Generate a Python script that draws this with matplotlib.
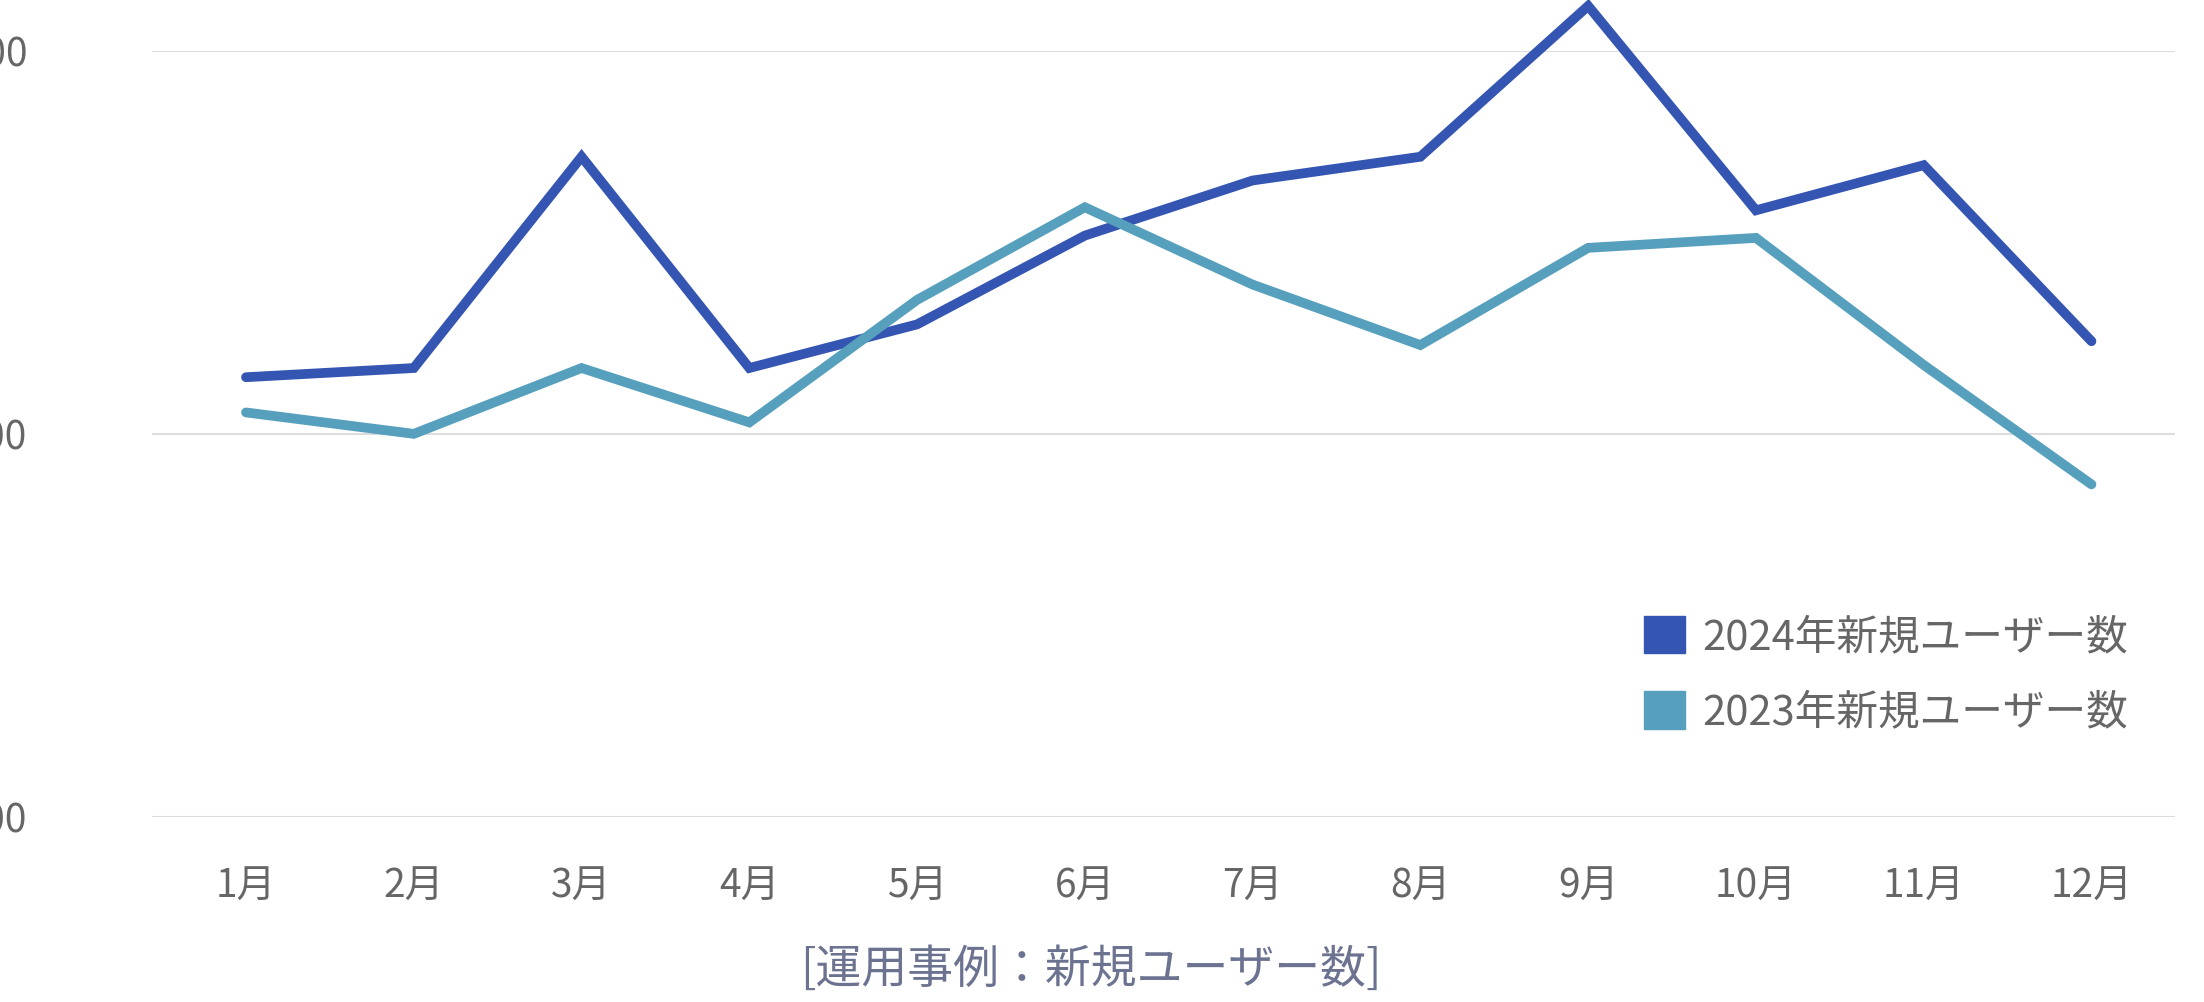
import matplotlib
matplotlib.use("Agg")
import matplotlib.pyplot as plt
from matplotlib.patches import Patch

plt.rcParams['font.family'] = ['Noto Sans CJK JP', 'DejaVu Sans']

months = ["1月", "2月", "3月", "4月", "5月", "6月", "7月", "8月", "9月", "10月", "11月", "12月"]
users_2024 = [1574, 1586, 1862, 1586, 1643, 1759, 1831, 1862, 2059, 1792, 1851, 1621]
users_2023 = [1528, 1500, 1586, 1515, 1675, 1796, 1695, 1616, 1743, 1756, 1590, 1434]
label_2024 = "2024年新規ユーザー数"
label_2023 = "2023年新規ユーザー数"
c24 = "#3455b1"
c23 = "#56a0bd"

fig = plt.figure(figsize=(22.04, 10.02), dpi=100)
ax = fig.add_axes([0.069, 0.185, 0.918, 0.764])
x = range(len(months))
ax.plot(x, users_2024, color=c24, lw=7, clip_on=False, solid_capstyle='round', solid_joinstyle='miter', zorder=3)
ax.plot(x, users_2023, color=c23, lw=7, clip_on=False, solid_capstyle='round', solid_joinstyle='miter', zorder=3)
ax.set_ylim(1000, 2000)
ax.set_xlim(-0.56, 11.5)
ax.set_yticks([1000, 1500, 2000])
ax.set_xticks(list(x))
ax.set_xticklabels(months)
ax.grid(axis='y', color='#dddddd', lw=1.5)
for s in ax.spines.values():
    s.set_visible(False)
ax.tick_params(length=0, labelsize=28, colors='#666666')
ax.tick_params(axis='x', pad=36)
for t in ax.get_yticklabels():
    t.set_horizontalalignment('left')
ax.tick_params(axis='y', pad=152)

handles = [Patch(color=c24), Patch(color=c23)]
ax.legend(handles, [label_2024, label_2023], loc='lower right', bbox_to_anchor=(0.995, 0.06),
          frameon=False, fontsize=30, labelcolor='#666666', handlelength=1.0, handleheight=1.0,
          labelspacing=0.8, handletextpad=0.4)

fig.text(0.495, 0.008, "[運用事例：新規ユーザー数]", ha='center', va='bottom', fontsize=33, color='#6c7391')
fig.savefig("out.png", dpi=100)
